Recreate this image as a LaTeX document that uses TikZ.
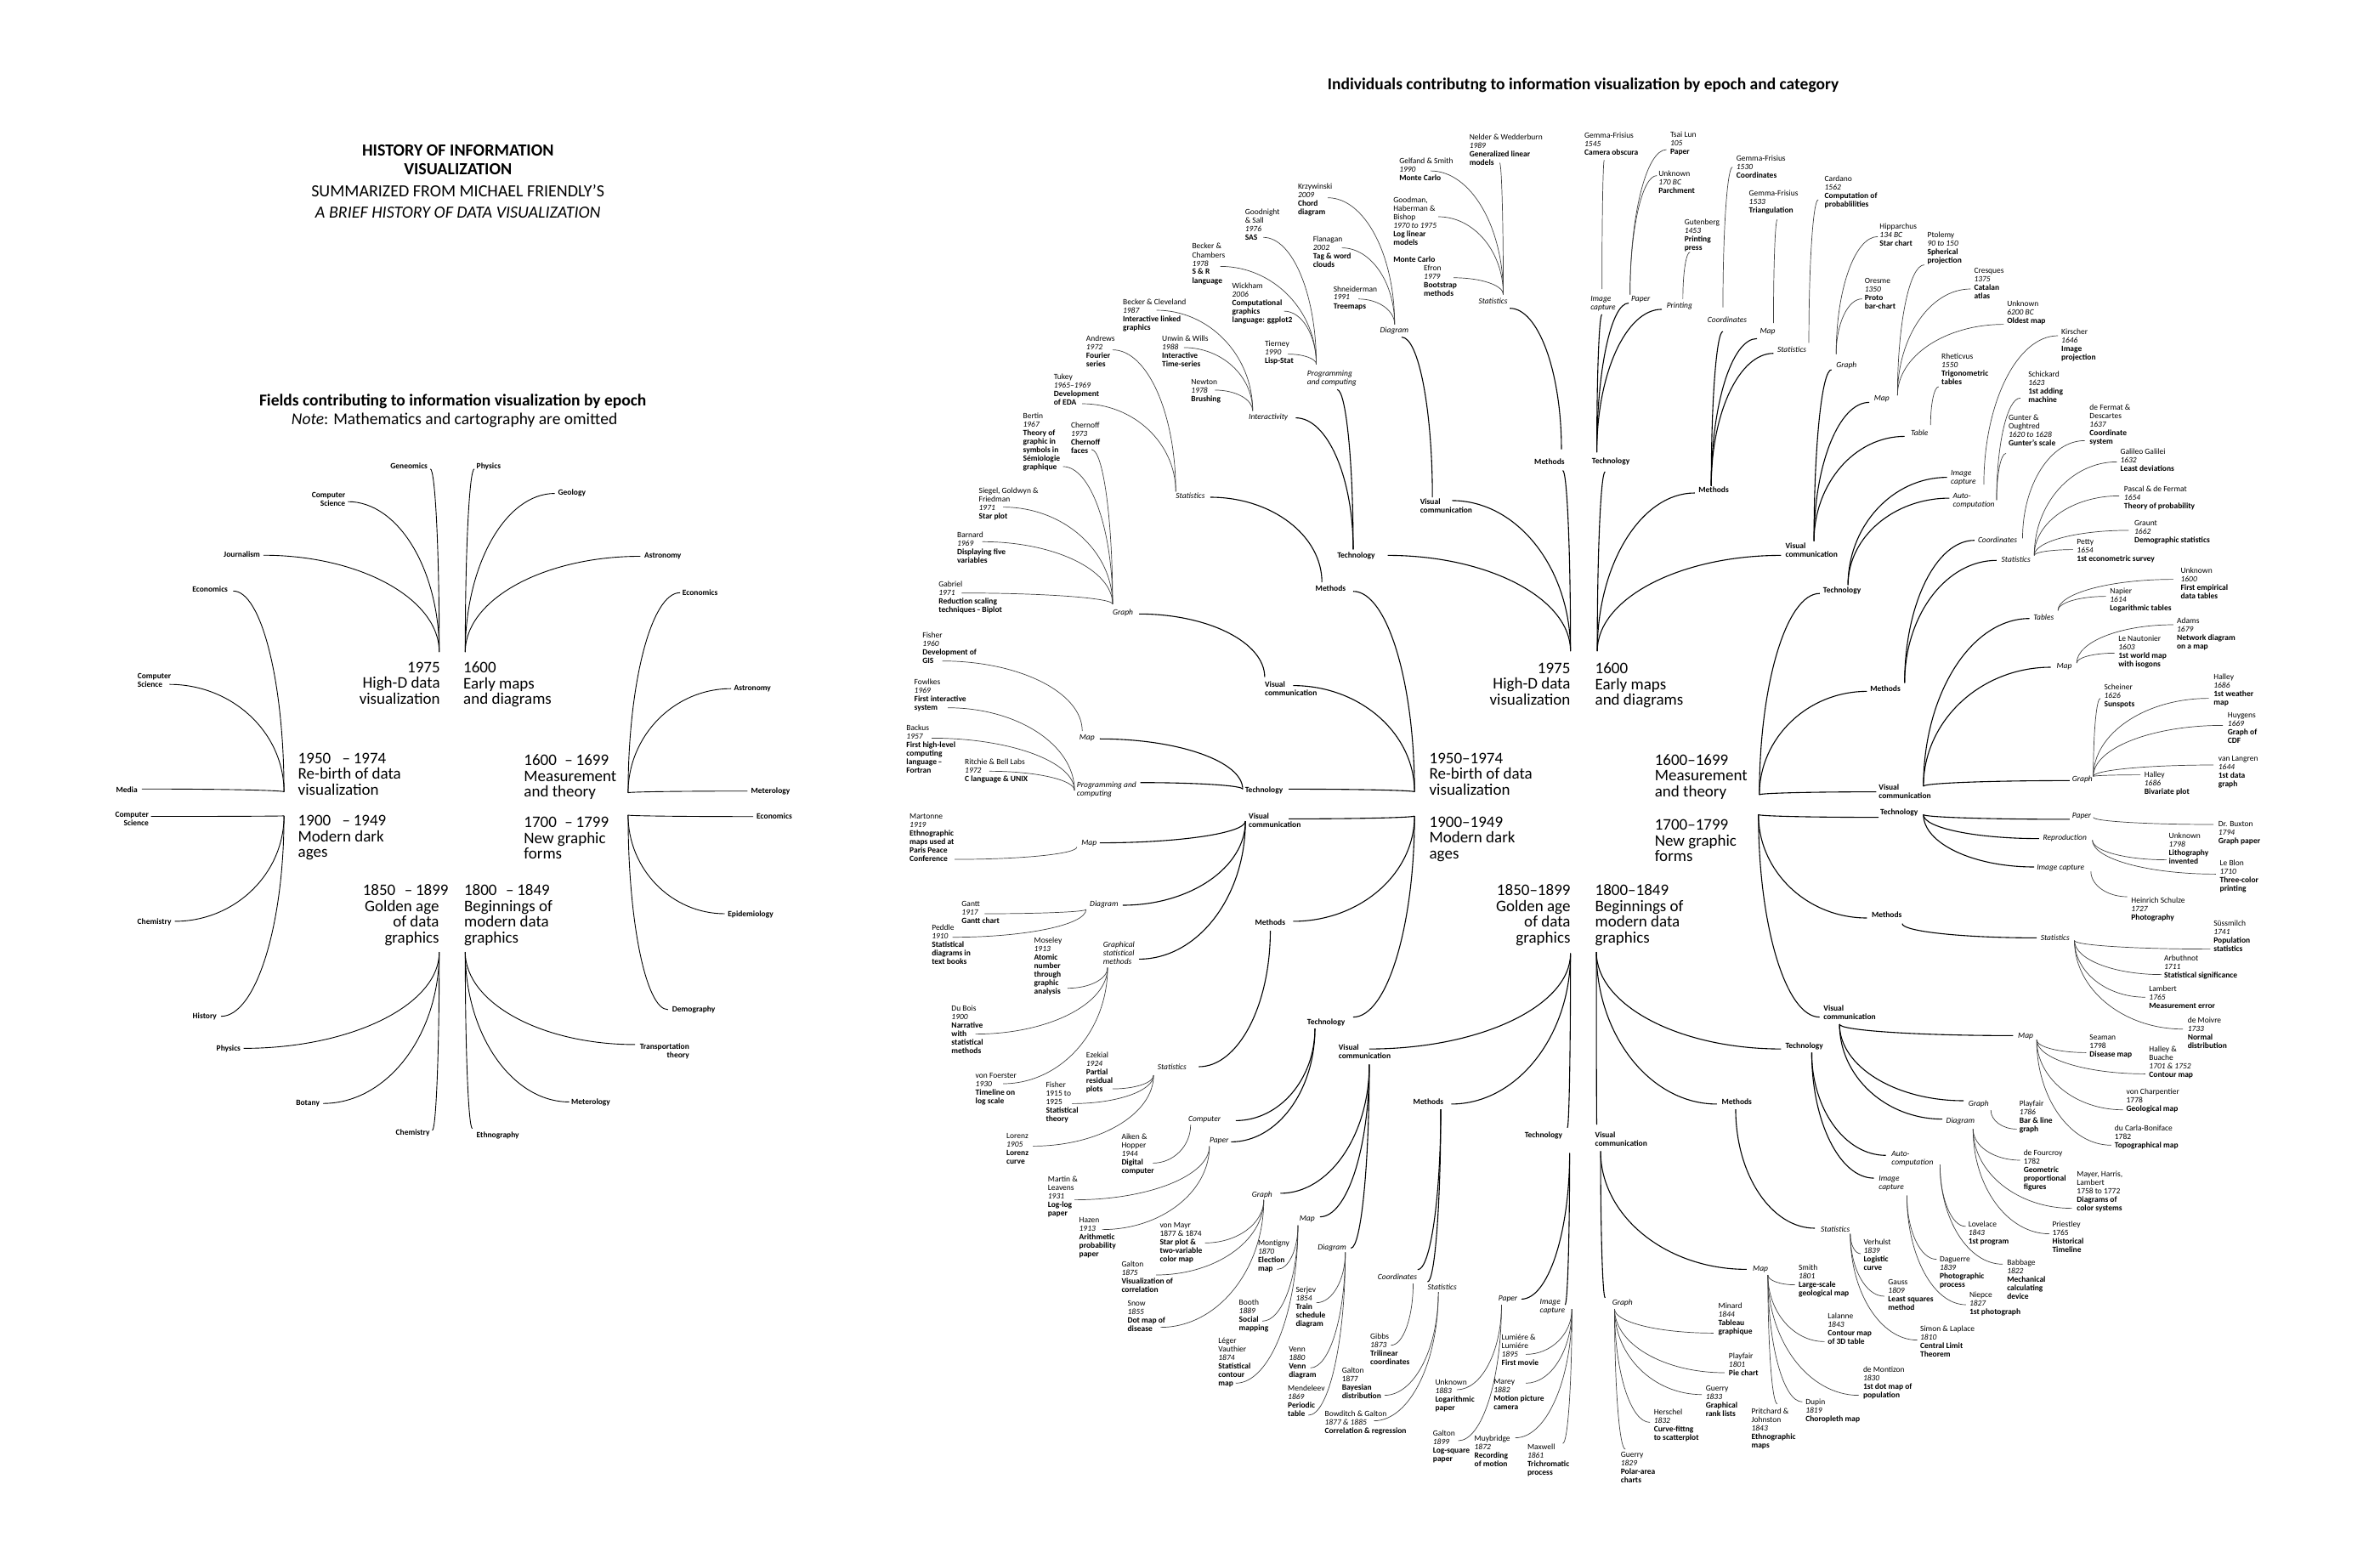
\documentclass[tikz,border=0pt]{standalone}
\usepackage{fontspec}
\setmainfont{Carlito}
\usetikzlibrary{calc}

% text helpers: year in italics, contribution in bold
\newcommand\yr[1]{\textit{#1}}
\newcommand\ds[1]{\textbf{#1}}
% curved link: leaves #2 vertically, reaches #3 horizontally
\newcommand\lk[3][twig]{\draw[#1] (#2) .. controls ($(#2)!0.55!(#2|-#3)$) and ($(#3)!0.55!(#2|-#3)$) .. (#3);}
% individual contribution: name, text position, text, attach point, parent junction
\newcommand\leaf[5]{\node[lf] (#1) at (#2) {#3};\coordinate (#1a) at (#4);\lk{#5}{#1a}}
% category: name, style, label position, label, incoming point, outgoing junction, parent junction
\newcommand\cat[7]{\node[#2] (#1) at (#3) {#4};\coordinate (#1i) at (#5);\coordinate (#1j) at (#6);\lk[trunk]{#7}{#1i}}
% field of the left tree: name, style, label position, label, attach point, epoch point
\newcommand\fld[6]{\node[#2] (#1) at (#3) {#4};\coordinate (#1a) at (#5);\lk[field]{#6}{#1a}}

\tikzset{
  lf/.style={font=\fontsize{9.5}{10}\selectfont, align=left, inner sep=0pt, anchor=north west, yshift=3.8pt},
  cb/.style={lf, font=\fontsize{9.5}{10}\selectfont\bfseries},
  ci/.style={lf, font=\fontsize{9.5}{10}\selectfont\itshape},
  fll/.style={cb},
  flr/.style={cb, align=right, anchor=north east},
  ep/.style={font=\fontsize{19}{18.5}\selectfont, align=left, inner sep=0pt, anchor=north west, yshift=6pt},
  epr/.style={ep, align=right, anchor=north east},
  ttl/.style={inner sep=0pt, anchor=base},
  trunk/.style={line width=1.1pt},
  twig/.style={line width=0.7pt, black!75},
  field/.style={line width=0.9pt},
}

\begin{document}
\begin{tikzpicture}[x=1.7857pt, y=-1.7857pt]
\fill[white] (0,0) rectangle (1568,1015);
\useasboundingbox (0,0) rectangle (1568,1015);

% ---------------- titles ----------------
\node[ttl, font=\fontsize{20}{24}\selectfont\bfseries] (tt1) at (301.7,102.6) {HISTORY OF INFORMATION};
\node[ttl, font=\fontsize{20}{24}\selectfont\bfseries] (tt2) at (301.7,115) {VISUALIZATION};
\node[ttl, font=\fontsize{20}{24}\selectfont] (tt3) at (301.7,129.8) {SUMMARIZED FROM MICHAEL FRIENDLY’S};
\node[ttl, font=\fontsize{20}{24}\selectfont\itshape] (tt4) at (301.7,143.8) {A BRIEF HISTORY OF DATA VISUALIZATION};
\node[ttl, font=\fontsize{19.5}{22}\selectfont\bfseries] (tt5) at (298.3,267.3) {Fields contributing to information visualization by epoch};
\node[ttl, font=\fontsize{19.5}{22}\selectfont] (tt6) at (299.4,279.8) {\textit{Note}: Mathematics and cartography are omitted};
\node[ttl, font=\fontsize{19.5}{22}\selectfont\bfseries] (tt7) at (1043,59.3) {Individuals contributng to information visualization by epoch and category};

% ================= LEFT TREE: fields by epoch =================
\node[epr] (q1) at (290,439.3) {1975\\High-D data\\visualization};
\node[ep] (q2) at (305.2,439.3) {1600\\Early maps\\and diagrams};
\node[ep] (q3) at (196.3,499.4) {1950\hspace{0.7em}--\hspace{0.2em}1974\\Re-birth of data\\visualization};
\node[ep] (q4) at (196.3,540.4) {1900\hspace{0.7em}--\hspace{0.2em}1949\\Modern dark\\ages};
\node[ep] (q5) at (345.1,500.4) {1600\hspace{0.5em}--\hspace{0.2em}1699\\Measurement\\and theory};
\node[ep] (q6) at (345.1,541.6) {1700\hspace{0.5em}--\hspace{0.2em}1799\\New graphic\\forms};
\node[epr] (q7) at (289.4,586) {1850\hspace{0.55em}--\hspace{0.2em}1899\hspace*{-11pt}\\Golden age\\of data\\graphics};
\node[ep] (q8) at (305.7,586) {1800\hspace{0.55em}--\hspace{0.2em}1849\\Beginnings of\\modern data\\graphics};

\coordinate (l75) at (289.4,429.6);
\coordinate (l16) at (306.5,429.6);
\coordinate (l50) at (187.1,521.7);
\coordinate (l00) at (187.1,537.5);
\coordinate (l6b) at (413.8,522.3);
\coordinate (l17) at (413.8,537);
\coordinate (l85) at (289.4,627.2);
\coordinate (l18) at (306.5,627.2);

\fld{k1}{flr}{281.8,306.9}{Geneomics}{283.5,309}{l75}
\fld{k2}{flr}{227.6,326.6}{Computer\\Science}{229.2,330.5}{l75}
\fld{k3}{flr}{171.4,365.4}{Journalism}{173.5,365.8}{l75}
\fld{k4}{fll}{313.9,307.3}{Physics}{312.5,309}{l16}
\fld{k5}{fll}{367.6,324.7}{Geology}{365.5,325.1}{l16}
\fld{k6}{fll}{424.4,366.3}{Astronomy}{421.9,366.5}{l16}
\fld{k7}{flr}{150.2,388.3}{Economics}{153.7,389.4}{l50}
\fld{k8}{fll}{90.5,445.8}{Computer\\Science}{111.6,450.9}{l50}
\fld{k9}{flr}{90.7,520.5}{Media}{93.5,519.8}{l50}
\fld{k10}{flr}{98.1,536.7}{Computer\\Science}{99.4,537.9}{l00}
\fld{k11}{flr}{113,607}{Chemistry}{115.2,607}{l00}
\fld{k12}{flr}{142.9,669.6}{History}{145.6,669.6}{l00}
\fld{k13}{fll}{449.5,390.5}{Economics}{448,390.5}{l6b}
\fld{k14}{fll}{483.5,453.5}{Astronomy}{481.6,453.7}{l6b}
\fld{k15}{fll}{494.7,521.2}{Meterology}{492.4,521.2}{l6b}
\fld{k16}{fll}{498.4,538}{Economics}{496.2,538}{l17}
\fld{k17}{fll}{479.4,602.5}{Epidemiology}{477.5,602}{l17}
\fld{k18}{fll}{442.8,665.2}{Demography}{440.1,665.2}{l17}
\fld{k19}{flr}{158.6,690.7}{Physics}{160.5,690.7}{l85}
\fld{k20}{flr}{210.7,727}{Botany}{212.9,727}{l85}
\fld{k21}{flr}{283.2,746.4}{Chemistry}{284.8,744.7}{l85}
\fld{k22}{flr}{454.2,689.5}{Transportation\\theory}{418.4,688.2}{l18}
\fld{k23}{fll}{376.3,726}{Meterology}{375,726}{l18}
\fld{k24}{fll}{313.9,747.9}{Ethnography}{311.2,743.5}{l18}

% ================= RIGHT TREE: individuals by epoch and category =================
\node[epr] (ep75) at (1034.7,440) {1975\\High-D data\\visualization};
\node[ep] (ep16) at (1050.8,440) {1600\\Early maps\\and diagrams};
\node[ep] (ep50) at (941.6,499.3) {1950--1974\\Re-birth of data\\visualization};
\node[ep] (ep00) at (941.6,541.3) {1900--1949\\Modern dark\\ages};
\node[ep] (ep6b) at (1090.1,500.3) {1600--1699\\Measurement\\and theory};
\node[ep] (ep17) at (1090.1,543.2) {1700--1799\\New graphic\\forms};
\node[epr] (ep85) at (1034.7,586.1) {1850--1899\\Golden age\\of data\\graphics};
\node[ep] (ep18) at (1050.8,586.1) {1800--1849\\Beginnings of\\modern data\\graphics};

% ---- 1975 ----
\coordinate (E75) at (1034.7,429);
\cat{m75}{cb}{1010.8,304.5}{Methods}{1029.6,310}{1028.7,296}{E75}
\cat{t75}{cb}{880.9,365.9}{Technology}{914.2,365.9}{891.5,362}{E75}
\cat{v75}{cb}{935.5,330.8}{Visual\\communication}{956.7,329.8}{943.7,327.6}{E75}
\cat{s75}{ci}{974,198.8}{Statistics}{994.7,203.1}{990.4,194}{m75j}
\cat{d75}{ci}{909.1,217.8}{Diagram}{923.4,222.1}{918.8,213.7}{v75j}
\cat{p75}{ci}{861.1,246.4}{Programming\\and computing}{880.9,256.7}{867.2,240}{t75j}
\cat{i75}{ci}{822.6,274.8}{Interactivity}{853.6,275.3}{825.3,270.7}{t75j}

\leaf{xa1}{968,90.5}{Nelder \& Wedderburn\\\yr{1989}\\\ds{Generalized linear}\\\ds{models}}{988,107.3}{s75j}
\leaf{xa2}{921.8,106.4}{Gelfand \& Smith\\\yr{1990}\\\ds{Monte Carlo}}{942.5,112.6}{s75j}
\leaf{xa3}{917.9,132}{Goodman,\\Haberman \&\\Bishop\\\yr{1970 to 1975}\\\ds{Log linear}\\\ds{models}}{947.6,142.8}{s75j}
\node[cb] (xa4x) at (917.9,171.2) {Monte Carlo};
\leaf{xa4}{938,176.8}{Efron\\\yr{1979}\\\ds{Bootstrap}\\\ds{methods}}{957.7,183}{s75j}
\leaf{xa5}{855,123.2}{Krzywinski\\\yr{2009}\\\ds{Chord}\\\ds{diagram}}{874.8,130.3}{d75j}
\leaf{xa6}{865,157.9}{Flanagan\\\yr{2002}\\\ds{Tag \& word}\\\ds{clouds}}{884,163.3}{d75j}
\leaf{xa7}{878.4,190.4}{Shneiderman\\\yr{1991}\\\ds{Treemaps}}{895,197}{d75j}
\leaf{xa8}{820.2,140}{Goodnight\\\& Sall\\\yr{1976}\\\ds{SAS}}{832.3,156.4}{p75j}
\leaf{xa9}{785.3,162.4}{Becker \&\\Chambers\\\yr{1978}\\\ds{S \& R}\\\ds{language}}{804,175.5}{p75j}
\leaf{xa10}{811.7,188.5}{Wickham\\\yr{2006}\\\ds{Computational}\\\ds{graphics}\\\ds{language: ggplot2}}{846,205}{p75j}
\leaf{xa11}{833.2,226.8}{Tierney\\\yr{1990}\\\ds{Lisp-Stat}}{848.4,233.3}{p75j}
\leaf{xa12}{739.7,199.2}{Becker \& Cleveland\\\yr{1987}\\\ds{Interactive linked}\\\ds{graphics}}{761.9,204.4}{i75j}
\leaf{xa13}{765.5,223.4}{Unwin \& Wills\\\yr{1988}\\\ds{Interactive}\\\ds{Time-series}}{780,229}{i75j}
\leaf{xa14}{784.7,252}{Newton\\\yr{1978}\\\ds{Brushing}}{800.4,257}{i75j}

% ---- 1950-1974 ----
\coordinate (E50) at (931.9,521.7);
\cat{m50}{cb}{866.6,387.9}{Methods}{891.5,389.6}{870.9,383.6}{E50}
\cat{v50}{cb}{833.2,451.2}{Visual\\communication}{852,451.7}{833.2,446.1}{E50}
\cat{t50}{cb}{820.2,520.2}{Technology}{849,519.9}{818.7,519.9}{E50}
\cat{s50}{ci}{774.6,327}{Statistics}{797.4,327.6}{774.6,323.9}{m50j}
\cat{g50}{ci}{733,403.6}{Graph}{750.4,404.5}{733,398}{v50j}
\cat{mp50}{ci}{711,486.3}{Map}{724.6,486.8}{713,481.6}{t50j}
\cat{p50}{ci}{709.4,517}{Programming and\\computing}{751.3,515.6}{707.9,520.8}{t50j}

\leaf{xb1}{715.5,223}{Andrews\\\yr{1972}\\\ds{Fourier}\\\ds{series}}{733,230.5}{s50j}
\leaf{xb2}{694.2,248.6}{Tukey\\\yr{1965--1969}\\\ds{Development}\\\ds{of EDA}}{713,266}{s50j}
\leaf{xb3}{673.9,273.9}{Bertin\\\yr{1967}\\\ds{Theory of}\\\ds{graphic in}\\\ds{symbols in}\\\ds{Sémiologie}\\\ds{graphique}}{700.3,307.4}{g50j}
\leaf{xb4}{705.5,280}{Chernoff\\\yr{1973}\\\ds{Chernoff}\\\ds{faces}}{719.1,296.2}{g50j}
\leaf{xb5}{644.8,323.5}{Siegel, Goldwyn \&\\Friedman\\\yr{1971}\\\ds{Star plot}}{660.8,334.1}{g50j}
\leaf{xb6}{630.5,352.4}{Barnard\\\yr{1969}\\\ds{Displaying five}\\\ds{variables}}{647.2,356.9}{g50j}
\leaf{xb7}{618.3,385.1}{Gabriel\\\yr{1971}\\\ds{Reduction scaling}\\\ds{techniques\,--\,Biplot}}{633.5,390.7}{g50j}
\leaf{xb8}{607.7,418.7}{Fisher\\\yr{1960}\\\ds{Development of}\\\ds{GIS}}{620.8,435.5}{mp50j}
\leaf{xb9}{602.3,449.5}{Fowlkes\\\yr{1969}\\\ds{First interactive}\\\ds{system}}{624.4,466.3}{p50j}
\leaf{xb10}{597.1,479.7}{Backus\\\yr{1957}\\\ds{First high-level}\\\ds{computing}\\\ds{language\,--}\\\ds{Fortran}}{613.8,486.3}{p50j}
\leaf{xb11}{635.6,502.1}{Ritchie \& Bell Labs\\\yr{1972}\\\ds{C language \& UNIX}}{651.7,508.1}{p50j}

% ---- 1900-1949 ----
\coordinate (E00) at (931.9,537.6);
\cat{v00}{cb}{822.6,537.6}{Visual\\communication}{849,539.5}{820.5,541}{E00}
\cat{m00}{cb}{826.8,607.6}{Methods}{852,607}{836.9,613.2}{E00}
\cat{t00}{cb}{861.1,673.3}{Technology}{891.5,670.1}{866.3,677.6}{E00}
\cat{mp00}{ci}{712.4,555.3}{Map}{724.6,555.3}{709.4,558.1}{v00j}
\cat{d00}{ci}{717.9,595.5}{Diagram}{739.7,596.4}{715.5,599.2}{v00j}
\cat{g00}{ci}{726.7,622.2}{Graphical\\statistical\\methods}{750.4,631.9}{729.7,637.5}{v00j}
\cat{s00}{ci}{762.5,703.2}{Statistics}{789.8,702.8}{760,708.4}{m00j}
\cat{c00}{ci}{782.8,737.7}{Computer}{814.1,738.3}{784.4,741.1}{t00j}
\cat{pp00}{ci}{796.8,751.7}{Paper}{811.1,752.3}{796.8,755.1}{t00j}

\leaf{xc1}{599.2,538}{Martonne\\\yr{1919}\\\ds{Ethnographic}\\\ds{maps used at}\\\ds{Paris Peace}\\\ds{Conference}}{629,566.2}{mp00j}
\leaf{xc2}{633.5,595.8}{Gantt\\\yr{1917}\\\ds{Gantt chart}}{648.7,602}{d00j}
\leaf{xc3}{613.8,611.3}{Peddle\\\yr{1910}\\\ds{Statistical}\\\ds{diagrams in}\\\ds{text books}}{627.5,617.5}{d00j}
\leaf{xc4}{681.2,619.7}{Moseley\\\yr{1913}\\\ds{Atomic}\\\ds{number}\\\ds{through}\\\ds{graphic}\\\ds{analysis}}{703.3,651.1}{g00j}
\leaf{xc5}{626.8,664.5}{Du Bois\\\yr{1900}\\\ds{Narrative}\\\ds{with}\\\ds{statistical}\\\ds{methods}}{642.6,681.3}{g00j}
\leaf{xc6}{642.6,708.8}{von Foerster\\\yr{1930}\\\ds{Timeline on}\\\ds{log scale}}{660.8,714}{g00j}
\leaf{xc7}{715.5,695}{Ezekial\\\yr{1924}\\\ds{Partial}\\\ds{residual}\\\ds{plots}}{733,717.4}{s00j}
\leaf{xc8}{689,715}{Fisher\\1915 to\\1925\\\ds{Statistical}\\\ds{theory}}{706.4,727.1}{s00j}
\leaf{xc9}{663,748.5}{Lorenz\\\yr{1905}\\\ds{Lorenz}\\\ds{curve}}{680.6,755.1}{s00j}
\leaf{xc10}{738.8,749.1}{Aiken \&\\Hopper\\\yr{1944}\\\ds{Digital}\\\ds{computer}}{759.5,766.3}{c00j}
\leaf{xc11}{690.3,777.1}{Martin \&\\Leavens\\\yr{1931}\\\ds{Log-log}\\\ds{paper}}{707.9,790.5}{pp00j}
\leaf{xc12}{710.9,804.2}{Hazen\\\yr{1913}\\\ds{Arithmetic}\\\ds{probability}\\\ds{paper}}{726.1,810.1}{pp00j}

% ---- 1850-1899 ----
\coordinate (E85) at (1034.7,628.1);
\cat{v85}{cb}{881.8,690.1}{Visual\\communication}{902.1,691.1}{902.1,701.3}{E85}
\cat{m85}{cb}{931,726.1}{Methods}{956.1,727.4}{949.2,730.8}{E85}
\cat{t85}{cb}{1004.4,747.6}{Technology}{1032.6,743}{1034.1,759.7}{E85}
\cat{g85}{ci}{824.7,786.8}{Graph}{843.5,786.2}{832.6,790.5}{v85j}
\cat{mp85}{ci}{856,803.2}{Map}{869.6,801.7}{855.1,807.3}{v85j}
\cat{d85}{ci}{868.1,821.7}{Diagram}{890,822.3}{886.3,825.1}{v85j}
\cat{co85}{ci}{907.6,841.5}{Coordinates}{934,836.5}{931,845.6}{m85j}
\cat{s85}{ci}{940.5,848.4}{Statistics}{940.5,844.5}{947.6,851.2}{m85j}
\cat{pp85}{ci}{987.1,855.5}{Paper}{1002.3,855.9}{989.2,859.6}{t85j}
\cat{ic85}{ci}{1014.4,858.1}{Image\\capture}{1031.1,859.6}{1035.6,862.4}{t85j}

\leaf{xd1}{764,807.3}{von Mayr\\1877 \& 1874\\\ds{Star plot \&}\\\ds{two-variable}\\\ds{color map}}{793.8,818.9}{g85j}
\leaf{xd2}{738.8,833.1}{Galton\\\yr{1875}\\\ds{Visualization of}\\\ds{correlation}}{761.6,840}{g85j}
\leaf{xd3}{742.8,859.1}{Snow\\\yr{1855}\\\ds{Dot map of}\\\ds{disease}}{764.6,874.5}{g85j}
\leaf{xd4}{828.7,819.1}{Montigny\\\yr{1870}\\\ds{Election}\\\ds{map}}{841.4,836.3}{mp85j}
\leaf{xd5}{816.2,858.3}{Booth\\\yr{1889}\\\ds{Social}\\\ds{mapping}}{831.7,870.4}{mp85j}
\leaf{xd6}{802.6,883.3}{Léger\\Vauthier\\\yr{1874}\\\ds{Statistical}\\\ds{contour}\\\ds{map}}{814.1,911.3}{mp85j}
\leaf{xd7}{853.6,849.9}{Serjev\\\yr{1854}\\\ds{Train}\\\ds{schedule}\\\ds{diagram}}{867.2,858.3}{d85j}
\leaf{xd8}{849,889.5}{Venn\\\yr{1880}\\\ds{Venn}\\\ds{diagram}}{863.3,901.2}{d85j}
\leaf{xd9}{848.4,915}{Mendeleev\\\yr{1869}\\\ds{Periodic}\\\ds{table}}{862,932.4}{d85j}
\leaf{xd10}{902.7,880.7}{Gibbs\\\yr{1873}\\\ds{Trilinear}\\\ds{coordinates}}{916.4,886.3}{co85j}
\leaf{xd11}{884,903.1}{Galton\\1877\\\ds{Bayesian}\\\ds{distribution}}{912.1,919.3}{s85j}
\leaf{xd12}{872.7,931.8}{Bowditch \& Galton\\\yr{1877 \& 1885}\\\ds{Correlation \& regression}}{905.2,936.1}{s85j}
\leaf{xd13}{945.5,910.6}{Unknown\\\yr{1883}\\\ds{Logarithmic}\\\ds{paper}}{959.8,915.6}{pp85j}
\leaf{xd14}{944,944.2}{Galton\\\yr{1899}\\\ds{Log-square}\\\ds{paper}}{960.7,949.2}{pp85j}
\leaf{xd15}{989.2,881.4}{Lumiére \&\\Lumiére\\\yr{1895}\\\ds{First movie}}{1005.3,892.3}{ic85j}
\leaf{xd16}{984,910.6}{Marey\\\yr{1882}\\\ds{Motion picture}\\\ds{camera}}{1005.3,911.3}{ic85j}
\leaf{xd17}{971.3,947.7}{Muybridge\\\yr{1872}\\\ds{Recording}\\\ds{of motion}}{998.3,947.3}{ic85j}
\leaf{xd18}{1006.2,953.5}{Maxwell\\\yr{1861}\\\ds{Trichromatic}\\\ds{process}}{1029.6,951}{ic85j}

% ---- 1800-1849 ----
\coordinate (E18) at (1051.7,627.2);
\cat{t18}{cb}{1176.2,688.8}{Technology}{1173.4,691.1}{1193.6,693.5}{E18}
\cat{m18}{cb}{1134.2,725.8}{Methods}{1131.1,727.4}{1143.5,730.8}{E18}
\cat{v18}{cb}{1050.8,747.6}{Visual\\communication}{1052,741}{1054.5,758.5}{E18}
\cat{g18}{ci}{1062.1,858.3}{Graph}{1057.5,855}{1063.7,862.4}{v18j}
\cat{mp18}{ci}{1154.7,836.3}{Map}{1150.7,836.3}{1164.7,840}{v18j}
\cat{s18}{ci}{1199.5,809.8}{Statistics}{1195.7,809.2}{1219,812.9}{m18j}
\cat{ac18}{ci}{1246.1,760.7}{Auto-\\computation}{1242.4,761.2}{1278.1,767.2}{t18j}
\cat{ic18}{ci}{1237.7,776.5}{Image\\capture}{1234.6,776.2}{1256.3,787.7}{t18j}

\leaf{xe1}{1132,860.2}{Minard\\\yr{1844}\\\ds{Tableau}\\\ds{graphique}}{1128.9,878.3}{g18j}
\leaf{xe2}{1138.9,893.2}{Playfair\\\yr{1801}\\\ds{Pie chart}}{1136.1,904.4}{g18j}
\leaf{xe3}{1123.7,915}{Guerry\\\yr{1833}\\\ds{Graphical}\\\ds{rank lists}}{1121.2,918.8}{g18j}
\leaf{xe4}{1089.5,930.2}{Herschel\\\yr{1832}\\\ds{Curve-fittng}\\\ds{to scatterplot}}{1087,937.1}{g18j}
\leaf{xe5}{1067.7,958.9}{Guerry\\\yr{1829}\\\ds{Polar-area}\\\ds{charts}}{1070.8,954.8}{g18j}
\leaf{xe6}{1184.9,835}{Smith\\\yr{1801}\\\ds{Large-scale}\\\ds{geological map}}{1182.7,846.5}{mp18j}
\leaf{xe7}{1204.1,867.1}{Lalanne\\\yr{1843}\\\ds{Contour map}\\\ds{of 3D table}}{1202,883.9}{mp18j}
\leaf{xe8}{1227.4,902.5}{de Montizon\\\yr{1830}\\\ds{1st dot map of}\\\ds{population}}{1224.6,919.3}{mp18j}
\leaf{xe9}{1189.5,923.6}{Dupin\\\yr{1819}\\\ds{Choropleth map}}{1187.4,923.6}{mp18j}
\leaf{xe10}{1153.8,929.6}{Pritchard \&\\Johnston\\\yr{1843}\\\ds{Ethnographic}\\\ds{maps}}{1170.9,924.9}{mp18j}
\leaf{xe11}{1227.7,818.5}{Verhulst\\\yr{1839}\\\ds{Logistic}\\\ds{curve}}{1225.9,826}{s18j}
\leaf{xe12}{1243.9,845}{Gauss\\\yr{1809}\\\ds{Least squares}\\\ds{method}}{1241.4,854}{s18j}
\leaf{xe13}{1265,875.8}{Simon \& Laplace\\\yr{1810}\\\ds{Central Limit}\\\ds{Theorem}}{1263.2,882.9}{s18j}
\leaf{xe14}{1296.7,806.4}{Lovelace\\\yr{1843}\\\ds{1st program}}{1295,808}{ac18j}
\leaf{xe15}{1322.2,831.6}{Babbage\\\yr{1822}\\\ds{Mechanical}\\\ds{calculating}\\\ds{device}}{1319.4,832.9}{ac18j}
\leaf{xe16}{1277.8,829.7}{Daguerre\\\yr{1839}\\\ds{Photographic}\\\ds{process}}{1275.9,829.7}{ic18j}
\leaf{xe17}{1297.4,853.4}{Niepce\\\yr{1827}\\\ds{1st photograph}}{1295.2,859.6}{ic18j}

% ---- 1700-1799 ----
\coordinate (E17) at (1158.5,536.7);
\cat{t17}{cb}{1238.6,535.2}{Technology}{1237.7,538.5}{1267.2,536.7}{E17}
\cat{m17}{cb}{1233,603}{Methods}{1229.9,604.8}{1253.2,608.5}{E17}
\cat{v17}{cb}{1201.3,664.5}{Visual\\communication}{1198.8,670.1}{1211.9,674.8}{E17}
\cat{pp17}{ci}{1365.1,537.6}{Paper}{1363.5,539.8}{1379.1,538.5}{t17j}
\cat{r17}{ci}{1345.9,552}{Reproduction}{1343.3,552.5}{1378.5,553.5}{t17j}
\cat{ic17}{ci}{1341.8,571.8}{Image capture}{1340.2,571.2}{1377.5,574}{t17j}
\cat{s17}{ci}{1344.3,618.2}{Statistics}{1341.8,617.9}{1366.7,619.7}{m17j}
\cat{mp17}{ci}{1329.4,682.5}{Map}{1326.3,682.3}{1341.8,685.1}{v17j}
\cat{g17}{ci}{1296.7,727.4}{Graph}{1293.6,725.2}{1311.6,731.4}{v17j}
\cat{d17}{ci}{1282.1,738.6}{Diagram}{1279.6,737.3}{1299.9,743.9}{v17j}

\leaf{xf1}{1461.4,543.2}{Dr. Buxton\\\yr{1794}\\\ds{Graph paper}}{1458.3,543.2}{pp17j}
\leaf{xf2}{1428.8,550.7}{Unknown\\\yr{1798}\\\ds{Lithography}\\\ds{invented}}{1427.3,566.5}{r17j}
\leaf{xf3}{1462.4,568.4}{Le Blon\\\yr{1710}\\\ds{Three-color}\\\ds{printing}}{1459.9,575.9}{r17j}
\leaf{xf4}{1404,593.2}{Heinrich Schulze\\\yr{1727}\\\ds{Photography}}{1401.5,590.8}{ic17j}
\leaf{xf5}{1458.3,608.5}{Süssmilch\\\yr{1741}\\\ds{Population}\\\ds{statistics}}{1456.2,625.3}{s17j}
\leaf{xf6}{1425.7,631.5}{Arbuthnot\\\yr{1711}\\\ds{Statistical significance}}{1424.1,642.1}{s17j}
\leaf{xf7}{1415.8,651.8}{Lambert\\\yr{1765}\\\ds{Measurement error}}{1413.3,657}{s17j}
\leaf{xf8}{1441.2,672.4}{de Moivre\\\yr{1733}\\\ds{Normal}\\\ds{distribution}}{1438.1,678}{s17j}
\leaf{xf9}{1376.6,683.8}{Seaman\\1798\\\ds{Disease map}}{1374.4,693.5}{mp17j}
\leaf{xf10}{1415.8,691.1}{Halley \&\\Buache\\\yr{1701 \& 1752}\\\ds{Contour map}}{1413.3,707.5}{mp17j}
\leaf{xf11}{1400.8,719.1}{von Charpentier\\1778\\\ds{Geological map}}{1398.7,731.2}{mp17j}
\leaf{xf12}{1393.1,743.5}{du Carla-Boniface\\1782\\\ds{Topographical map}}{1390.9,754.5}{mp17j}
\leaf{xf13}{1330.3,727.4}{Playfair\\\yr{1786}\\\ds{Bar \& line}\\\ds{graph}}{1328.7,743.9}{g17j}
\leaf{xf14}{1333.1,759.7}{de Fourcroy\\1782\\\ds{Geometric}\\\ds{proportional}\\\ds{figures}}{1330.9,764.4}{d17j}
\leaf{xf15}{1368.2,773.7}{Mayer, Harris,\\Lambert\\1758 to 1772\\\ds{Diagrams of}\\\ds{color systems}}{1365.1,796.1}{d17j}
\leaf{xf16}{1352,806.4}{Priestley\\1765\\\ds{Historical}\\\ds{Timeline}}{1350.2,812.9}{d17j}

% ---- 1600: early maps and diagrams ----
\coordinate (E16) at (1052.3,429);
\cat{t16}{cb}{1048.7,303.9}{Technology}{1057.5,310.8}{1052,298}{E16}
\cat{m16}{cb}{1119,322.6}{Methods}{1116.5,324.8}{1127.4,320.1}{E16}
\cat{v16}{cb}{1176.2,359.9}{Visual\\communication}{1173.4,365.9}{1195.1,356.5}{E16}
\cat{co16}{ci}{1124.9,211}{Coordinates}{1135.1,218.4}{1135.1,202.5}{m16j}
\cat{mp16}{ci}{1159.4,218.4}{Map}{1157.5,223.1}{1168.4,212.8}{m16j}
\cat{s16}{ci}{1170.9,230.2}{Statistics}{1168.4,232.8}{1191.7,225.9}{m16j}
\cat{ic16}{ci}{1047.8,196.9}{Image\\capture}{1055.4,207.2}{1055.4,190.4}{t16j}
\cat{pp16}{ci}{1074.6,196.9}{Paper}{1073,199.7}{1073.9,194.1}{t16j}
\cat{pr16}{ci}{1097.9,201.6}{Printing}{1094.8,203.8}{1108.7,196.9}{t16j}
\cat{g16}{ci}{1209.7,240.4}{Graph}{1206.6,243.6}{1209.7,233.3}{v16j}
\cat{mp16b}{ci}{1234.6,262.6}{Map}{1231.5,265.1}{1250.1,260.4}{v16j}
\cat{tb16}{ci}{1258.8,285.2}{Table}{1254.8,287.5}{1271.9,280}{v16j}

\leaf{xg1}{1143.9,104.2}{Gemma-Frisius\\\yr{1530}\\\ds{Coordinates}}{1141.4,110.1}{co16j}
\leaf{xg2}{1152.2,127.5}{Gemma-Frisius\\\yr{1533}\\\ds{Triangulation}}{1170.9,144.7}{mp16j}
\leaf{xg3}{1202,118}{Cardano\\\yr{1562}\\\ds{Computation of}\\\ds{probablilities}}{1197.9,131.6}{s16j}
\leaf{xg4}{1043.8,89.6}{Gemma-Frisius\\\yr{1545}\\\ds{Camera obscura}}{1056.9,105.5}{ic16j}
\leaf{xg5}{1100.3,88.7}{Tsai Lun\\\yr{105}\\\ds{Paper}}{1097.9,98.6}{pp16j}
\leaf{xg6}{1092.6,114.8}{Unknown\\\yr{170 BC}\\\ds{Parchment}}{1091.6,115.7}{pp16j}
\leaf{xg7}{1109.7,146.2}{Gutenberg\\\yr{1453}\\\ds{Printing}\\\ds{press}}{1113.4,166.1}{pr16j}
\leaf{xg8}{1238.3,149.3}{Hipparchus\\\yr{134 BC}\\\ds{Star chart}}{1237.1,155.9}{g16j}
\leaf{xg9}{1228.4,185.2}{Oresme\\\yr{1350}\\\ds{Proto}\\\ds{bar-chart}}{1226.8,196.9}{g16j}
\leaf{xg10}{1269.7,155}{Ptolemy\\\yr{90 to 150}\\\ds{Spherical}\\\ds{projection}}{1267.8,174.5}{mp16bj}
\leaf{xg11}{1300.5,178.8}{Cresques\\\yr{1375}\\\ds{Catalan}\\\ds{atlas}}{1298.3,190.4}{mp16bj}
\leaf{xg12}{1322.2,200.1}{Unknown\\\yr{6200 BC}\\\ds{Oldest map}}{1320.1,213.7}{mp16bj}
\leaf{xg13}{1279,234.8}{Rheticvus\\\yr{1550}\\\ds{Trigonometric}\\\ds{tables}}{1277.2,254.8}{tb16j}

% ---- 1600-1699 ----
\coordinate (E6b) at (1159.1,523.6);
\cat{t6b}{cb}{1201,388.8}{Technology}{1198.9,391}{1217.5,385.5}{E6b}
\cat{m6b}{cb}{1232.1,453.6}{Methods}{1229.9,455.5}{1254.8,449.9}{E6b}
\cat{v6b}{cb}{1237.7,519}{Visual\\communication}{1236.1,521.7}{1267.2,518}{E6b}
\cat{ic6b}{ci}{1285.2,312.1}{Image\\capture}{1282.8,314.5}{1307,319.2}{t6bj}
\cat{ac6b}{ci}{1286.5,327}{Auto-\\computation}{1284.3,328.2}{1315.4,329.5}{t6bj}
\cat{co6b}{ci}{1303,355.6}{Coordinates}{1300.8,356}{1332.5,354.7}{m6bj}
\cat{s6b}{ci}{1318.5,368.7}{Statistics}{1315.4,369.2}{1340.2,365.9}{m6bj}
\cat{tb6b}{ci}{1339.6,406.6}{Tables}{1337.1,407.5}{1355.8,402.3}{v6bj}
\cat{mp6b}{ci}{1354.8,439}{Map}{1351.1,439.6}{1368.2,436.8}{v6bj}
\cat{g6b}{ci}{1365.1,513.3}{Graph}{1363.5,514.3}{1379.1,511.5}{v6bj}

\leaf{xh1}{1358,218.8}{Kirscher\\\yr{1646}\\\ds{Image}\\\ds{projection}}{1355.8,221.2}{ic6bj}
\leaf{xh2}{1336.2,246.8}{Schickard\\\yr{1623}\\\ds{1st adding}\\\ds{machine}}{1331,262.3}{ac6bj}
\leaf{xh3}{1323.2,275.3}{Gunter \&\\Oughtred\\\yr{1620 to 1628}\\\ds{Gunter’s scale}}{1321.6,298.7}{ac6bj}
\leaf{xh4}{1376.6,268.4}{de Fermat \&\\Descartes\\\yr{1637}\\\ds{Coordinate}\\\ds{system}}{1373.5,290.3}{co6bj}
\leaf{xh5}{1396.8,297.7}{Galileo Galilei\\\yr{1632}\\\ds{Least deviations}}{1394.6,304.3}{s6bj}
\leaf{xh6}{1399.3,322}{Pascal \& de Fermat\\\yr{1654}\\\ds{Theory of probability}}{1396.2,326.7}{s6bj}
\leaf{xh7}{1406.1,344.8}{Graunt\\\yr{1662}\\\ds{Demographic statistics}}{1402.4,349.4}{s6bj}
\leaf{xh8}{1368.2,357.1}{Petty\\\yr{1654}\\\ds{1st econometric survey}}{1365.7,362.1}{s6bj}
\leaf{xh9}{1436.6,376.1}{Unknown\\\yr{1600}\\\ds{First empirical}\\\ds{data tables}}{1431.9,381.7}{tb6bj}
\leaf{xh10}{1390,389.6}{Napier\\\yr{1614}\\\ds{Logarithmic tables}}{1387.5,392.9}{tb6bj}
\leaf{xh11}{1434.1,408.8}{Adams\\\yr{1679}\\\ds{Network diagram}\\\ds{on a map}}{1431.9,411.6}{mp6bj}
\leaf{xh12}{1395.6,420.9}{Le Nautonier\\\yr{1603}\\\ds{1st world map}\\\ds{with isogons}}{1393.1,430.3}{mp6bj}
\leaf{xh13}{1386.2,452.7}{Scheiner\\\yr{1626}\\\ds{Sunspots}}{1383.7,460.1}{g6bj}
\leaf{xh14}{1458.3,446.1}{Halley\\\yr{1686}\\\ds{1st weather}\\\ds{map}}{1455.2,460.1}{g6bj}
\leaf{xh15}{1467.6,471.3}{Huygens\\\yr{1669}\\\ds{Graph of}\\\ds{CDF}}{1464.5,477.9}{g6bj}
\leaf{xh16}{1461.4,499.9}{van Langren\\\yr{1644}\\\ds{1st data}\\\ds{graph}}{1458.3,504}{g6bj}
\leaf{xh17}{1412.7,510.5}{Halley\\\yr{1686}\\\ds{Bivariate plot}}{1410.2,510.5}{g6bj}

\end{tikzpicture}
\end{document}
